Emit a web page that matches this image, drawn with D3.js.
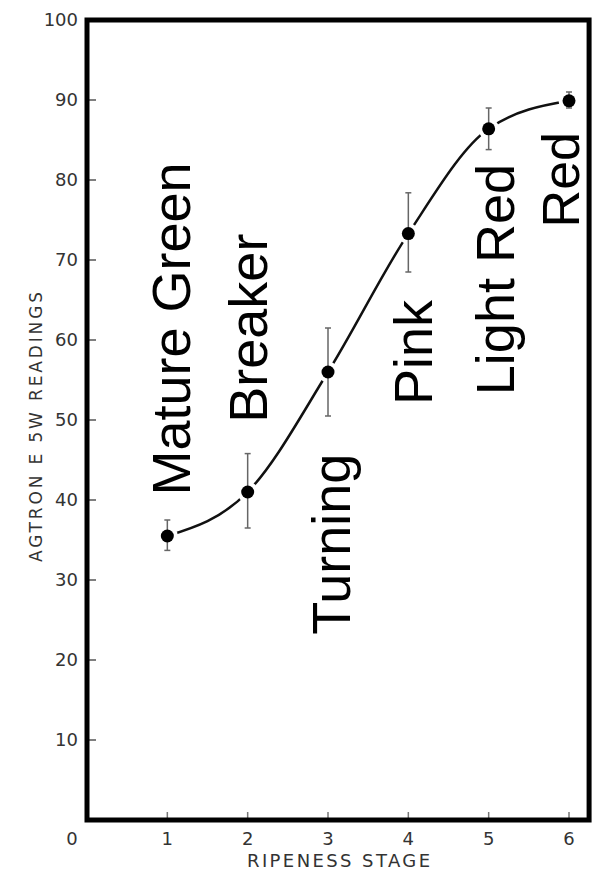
<!DOCTYPE html>
<html>
<head>
<meta charset="utf-8">
<script src="https://cdn.jsdelivr.net/npm/d3@7"></script>
<style>
  html, body { margin: 0; padding: 0; background: #fff; }
  svg { display: block; }
</style>
</head>
<body>
<svg id="chart" width="599" height="875"></svg>
<script>
// ---- data ----
const stages = [1, 2, 3, 4, 5, 6];
const stageNames = ["Mature Green", "Breaker", "Turning", "Pink", "Light Red", "Red"];
const readings = [35.5, 41.0, 56.0, 73.3, 86.4, 89.9];
const errLow = [33.7, 36.5, 50.5, 68.5, 83.8, 89.0];
const errHigh = [37.5, 45.8, 61.5, 78.4, 89.0, 91.0];
const yTicks = [0, 10, 20, 30, 40, 50, 60, 70, 80, 90, 100];
const yTickLabels = ["0", "10", "20", "30", "40", "50", "60", "70", "80", "90", "100"];
const xTicks = [0, 1, 2, 3, 4, 5, 6];
const xTickLabels = ["0", "1", "2", "3", "4", "5", "6"];
// label anchor value (top end of rotated text, in y units)
const labelTop = [82.2, 73.3, 45.8, 65.0, 82.0, 86.0];

const svg = d3.select("#chart");
const x = d3.scaleLinear().domain([0, 6]).range([87, 569]);
const y = d3.scaleLinear().domain([0, 100]).range([820, 20]);
const xRight = x(6.25);

const tickFont = "'DejaVu Sans', sans-serif";

// y ticks (inward)
svg.append("g").selectAll("line").data(yTicks.filter(d => d > 0 && d < 100)).join("line")
  .attr("x1", x(0)).attr("x2", x(0) + 9)
  .attr("y1", d => y(d)).attr("y2", d => y(d))
  .attr("stroke", "#555").attr("stroke-width", 1.5);

// x ticks (inward)
svg.append("g").selectAll("line").data(xTicks.filter(d => d > 0)).join("line")
  .attr("x1", d => x(d)).attr("x2", d => x(d))
  .attr("y1", y(0)).attr("y2", y(0) - 8)
  .attr("stroke", "#777").attr("stroke-width", 1.5);

// y tick labels
svg.append("g").selectAll("text").data(yTicks.filter(d => d > 0)).join("text")
  .attr("x", x(0) - 9).attr("y", d => y(d))
  .attr("dy", "0.36em")
  .attr("text-anchor", "end")
  .attr("font-family", tickFont).attr("font-size", 18)
  .attr("fill", "#333")
  .text(d => yTickLabels[yTicks.indexOf(d)]);

// x tick labels
svg.append("g").selectAll("text").data(xTicks).join("text")
  .attr("x", d => d === 0 ? x(0) - 15 : x(d))
  .attr("y", y(0) + 25)
  .attr("text-anchor", "middle")
  .attr("font-family", tickFont).attr("font-size", 18)
  .attr("fill", "#333")
  .text((d, i) => xTickLabels[i]);

// axis titles
svg.append("text")
  .attr("x", 247).attr("y", 867)
  .attr("textLength", 183).attr("lengthAdjust", "spacing")
  .attr("font-family", tickFont).attr("font-size", 18)
  .attr("fill", "#333")
  .text("RIPENESS STAGE");

svg.append("text")
  .attr("transform", `translate(42, 562) rotate(-90)`)
  .attr("textLength", 270).attr("lengthAdjust", "spacing")
  .attr("font-family", tickFont).attr("font-size", 17)
  .attr("fill", "#333")
  .text("AGTRON E 5W READINGS");

// curve
const pts = stages.map((s, i) => [x(s), y(readings[i])]);
svg.append("path")
  .attr("d", d3.line().curve(d3.curveMonotoneX)(pts))
  .attr("fill", "none").attr("stroke", "#111").attr("stroke-width", 2.5);

// white halos (gap between curve and markers)
svg.append("g").selectAll("circle").data(stages).join("circle")
  .attr("cx", d => x(d)).attr("cy", (d, i) => y(readings[i]))
  .attr("r", 10.5).attr("fill", "#fff");

// error bars
const eb = svg.append("g").attr("stroke", "#666").attr("stroke-width", 1.5);
eb.selectAll("line.v").data(stages).join("line").attr("class", "v")
  .attr("x1", d => x(d)).attr("x2", d => x(d))
  .attr("y1", (d, i) => y(errLow[i])).attr("y2", (d, i) => y(errHigh[i]));
eb.selectAll("line.t").data(stages).join("line").attr("class", "t")
  .attr("x1", d => x(d) - 3).attr("x2", d => x(d) + 3)
  .attr("y1", (d, i) => y(errHigh[i])).attr("y2", (d, i) => y(errHigh[i]));
eb.selectAll("line.b").data(stages).join("line").attr("class", "b")
  .attr("x1", d => x(d) - 3).attr("x2", d => x(d) + 3)
  .attr("y1", (d, i) => y(errLow[i])).attr("y2", (d, i) => y(errLow[i]));

// markers
svg.append("g").selectAll("circle").data(stages).join("circle")
  .attr("cx", d => x(d)).attr("cy", (d, i) => y(readings[i]))
  .attr("r", 6.5).attr("fill", "#000");

// frame (drawn after halos so it stays intact)
svg.append("rect")
  .attr("x", x(0)).attr("y", y(100))
  .attr("width", xRight - x(0)).attr("height", y(0) - y(100))
  .attr("fill", "none").attr("stroke", "#000").attr("stroke-width", 5);

// big rotated stage labels
const labelX = [190, 267, 350, 432, 514, 579];
const labelSize = [54, 54, 54, 54, 54, 52];
svg.append("g").selectAll("text").data(stageNames).join("text")
  .attr("transform", (d, i) => `translate(${labelX[i]}, ${y(labelTop[i])}) rotate(-90)`)
  .attr("text-anchor", "end")
  .attr("font-family", "'Liberation Sans', Arial, sans-serif")
  .attr("font-size", (d, i) => labelSize[i])
  .attr("fill", "#000")
  .text(d => d);
</script>
</body>
</html>
